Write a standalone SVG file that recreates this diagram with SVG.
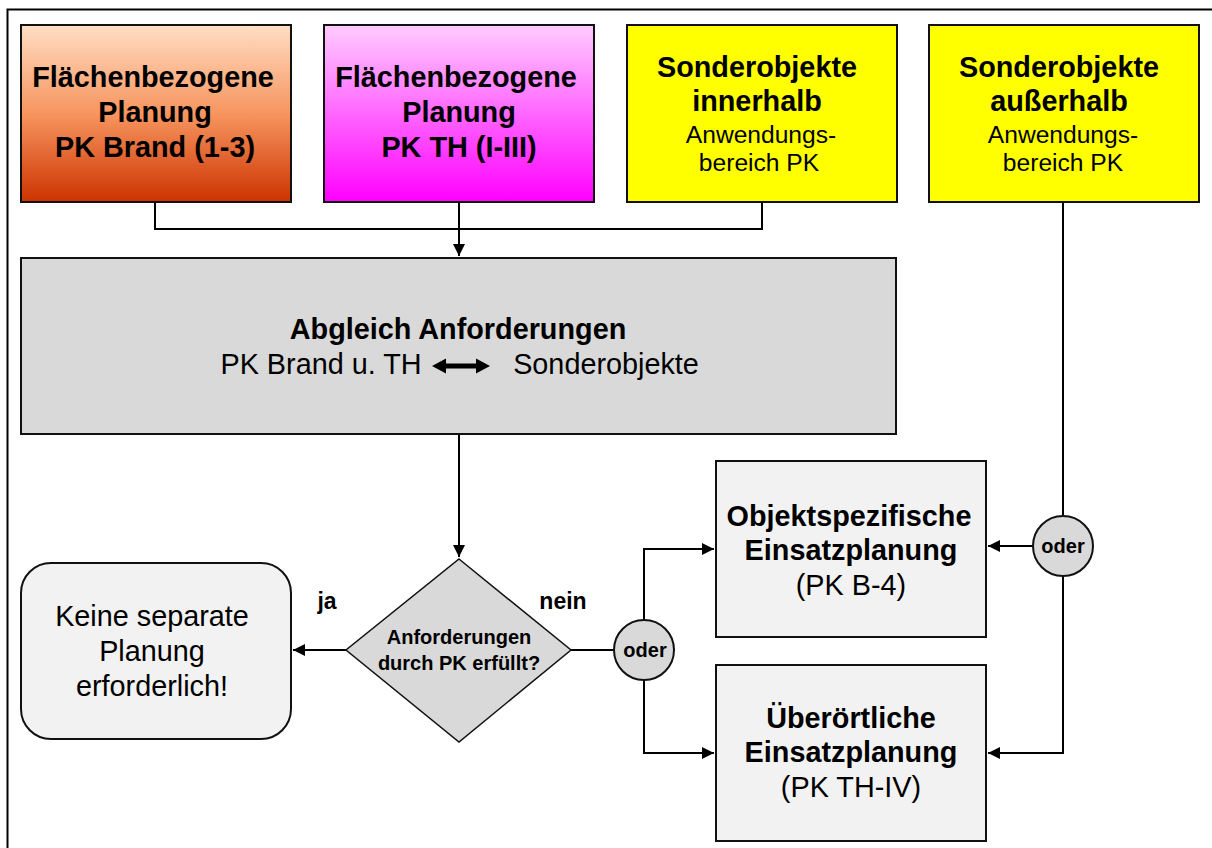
<svg xmlns="http://www.w3.org/2000/svg" width="1212" height="848" viewBox="0 0 1212 848">
<style>
.box{stroke:#111;stroke-width:2}
.ln{fill:none;stroke:#000;stroke-width:2}
.t{font-family:"Liberation Sans",Arial,sans-serif;fill:#000;text-anchor:middle}
.b{font-weight:bold}
.big{font-size:28.8px}
.sm{font-size:24.6px}
</style>
<defs>
<linearGradient id="gBrand" x1="0" y1="0" x2="0" y2="1">
<stop offset="0" stop-color="#FFDEC4"/>
<stop offset="0.5" stop-color="#F7955F"/>
<stop offset="1" stop-color="#CC3300"/>
</linearGradient>
<linearGradient id="gTH" x1="0" y1="0" x2="0" y2="1">
<stop offset="0" stop-color="#FFCCFF"/>
<stop offset="1" stop-color="#FF00FF"/>
</linearGradient>
<marker id="ah" viewBox="0 0 10 10" refX="10" refY="5" markerWidth="6" markerHeight="6" orient="auto" markerUnits="strokeWidth">
<path d="M0,0 L10,5 L0,10 z" fill="#000"/>
</marker>
</defs>
<rect width="1212" height="848" fill="#fff"/>
<path d="M7.5,848 V9.5 H1212" class="ln"/>

<g id="connectors">
<path d="M155,202 V229 H762 V202" class="ln"/>
<path d="M459,202 V256" class="ln" marker-end="url(#ah)"/>
<path d="M459,435 V557" class="ln" marker-end="url(#ah)"/>
<path d="M346,650 H293" class="ln" marker-end="url(#ah)"/>
<path d="M571,650 H615" class="ln"/>
<path d="M644,620 V549 H714" class="ln" marker-end="url(#ah)"/>
<path d="M644,680 V753 H714" class="ln" marker-end="url(#ah)"/>
<path d="M1063,202 V515" class="ln"/>
<path d="M1033,546 H988" class="ln" marker-end="url(#ah)"/>
<path d="M1063,576 V753 H988" class="ln" marker-end="url(#ah)"/>
</g>

<g id="n-brand">
<rect x="21" y="25" width="270" height="177" fill="url(#gBrand)" class="box"/>
<text class="t b big" x="153" y="87">Flächenbezogene</text>
<text class="t b big" x="155" y="122">Planung</text>
<text class="t b big" x="155" y="157">PK Brand (1-3)</text>
</g>

<g id="n-th">
<rect x="324" y="25" width="270" height="177" fill="url(#gTH)" class="box"/>
<text class="t b big" x="456" y="87">Flächenbezogene</text>
<text class="t b big" x="459" y="122">Planung</text>
<text class="t b big" x="459" y="157">PK TH (I-III)</text>
</g>

<g id="n-sonder-in">
<rect x="627" y="25" width="270" height="177" fill="#FFFF00" class="box"/>
<text class="t b big" x="757" y="77">Sonderobjekte</text>
<text class="t b big" x="757" y="111">innerhalb</text>
<text class="t sm" x="761" y="143">Anwendungs-</text>
<text class="t sm" x="759" y="171">bereich PK</text>
</g>

<g id="n-sonder-aus">
<rect x="929" y="25" width="270" height="177" fill="#FFFF00" class="box"/>
<text class="t b big" x="1059" y="77">Sonderobjekte</text>
<text class="t b big" x="1059" y="111">außerhalb</text>
<text class="t sm" x="1063" y="143">Anwendungs-</text>
<text class="t sm" x="1063" y="171">bereich PK</text>
</g>

<g id="n-abgleich">
<rect x="21" y="258" width="875" height="176" fill="#D9D9D9" class="box"/>
<text class="t b big" x="458" y="339">Abgleich Anforderungen</text>
<text class="t big" x="321" y="374">PK Brand u. TH</text>
<text class="t big" x="606" y="374">Sonderobjekte</text>
<path d="M432,366 L446,358.5 V363.5 H476 V358.5 L490,366 L476,373.5 V368.5 H446 V373.5 z" fill="#000"/>
</g>

<g id="n-entscheidung">
<path d="M459,559 L571,650 L459,742 L346,650 z" fill="#D9D9D9" stroke="#111" stroke-width="1.5"/>
<text class="t b" font-size="20" x="459" y="644">Anforderungen</text>
<text class="t b" font-size="20" x="459" y="670">durch PK erfüllt?</text>
</g>

<g id="labels">
<text class="t b" font-size="23" x="327" y="609">ja</text>
<text class="t b" font-size="23" x="563" y="609">nein</text>
</g>

<g id="n-keine">
<rect x="21" y="563" width="270" height="176" rx="30" ry="30" fill="#F2F2F2" class="box"/>
<text class="t big" x="152" y="626">Keine separate</text>
<text class="t big" x="152" y="661">Planung</text>
<text class="t big" x="152" y="696">erforderlich!</text>
</g>

<g id="n-oder1">
<circle cx="644" cy="650" r="30" fill="#D9D9D9" stroke="#111" stroke-width="2"/>
<text class="t b" font-size="20" x="645" y="657">oder</text>
</g>

<g id="n-oder2">
<circle cx="1063" cy="546" r="30" fill="#D9D9D9" stroke="#111" stroke-width="2"/>
<text class="t b" font-size="20" x="1063" y="553">oder</text>
</g>

<g id="n-objekt">
<rect x="716" y="461" width="270" height="176" fill="#F2F2F2" class="box"/>
<text class="t b big" x="849" y="526">Objektspezifische</text>
<text class="t b big" x="851" y="560">Einsatzplanung</text>
<text class="t big" x="851" y="595">(PK B-4)</text>
</g>

<g id="n-ueber">
<rect x="716" y="665" width="270" height="176" fill="#F2F2F2" class="box"/>
<text class="t b big" x="851" y="728">Überörtliche</text>
<text class="t b big" x="851" y="762">Einsatzplanung</text>
<text class="t big" x="851" y="797">(PK TH-IV)</text>
</g>
</svg>
